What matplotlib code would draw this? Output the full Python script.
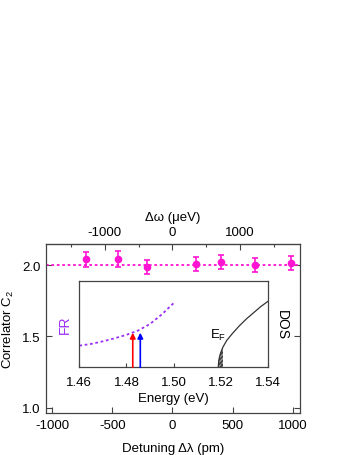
import numpy as np
import matplotlib
matplotlib.use('Agg')
import matplotlib.pyplot as plt

plt.rcParams['font.family'] = ['Liberation Sans', 'DejaVu Sans']
plt.rcParams['font.size'] = 9
plt.rcParams['axes.unicode_minus'] = False
plt.rcParams['mathtext.fontset'] = 'custom'
plt.rcParams['mathtext.rm'] = 'Liberation Sans'
plt.rcParams['mathtext.it'] = 'Liberation Sans:italic'

# datos principales: correlador C2 vs desintonia
detuning = [-720, -452, -212, 193, 402, 687, 989]
c2 = [2.042, 2.044, 1.988, 2.007, 2.023, 2.002, 2.014]
c2_err = [0.052, 0.054, 0.052, 0.050, 0.052, 0.050, 0.050]
c2_ref = 2.0

# recuadro: resonancia FR y densidad de estados
fr_energy = [1.460, 1.465, 1.470, 1.475, 1.480, 1.485, 1.490, 1.495, 1.500]
fr_value = [0.25, 0.27, 0.30, 0.335, 0.375, 0.425, 0.50, 0.61, 0.74]
dos_energy = [1.519, 1.5192, 1.5195, 1.520, 1.521, 1.5226, 1.525, 1.528,
              1.531, 1.534, 1.537, 1.540]
dos_value = [0.0, 0.074, 0.117, 0.166, 0.234, 0.31, 0.39, 0.48, 0.56,
             0.63, 0.70, 0.76]
fermi_edge = 1.5211
laser_red = 1.4827
laser_blue = 1.4859
laser_top = 0.40

pm_per_ueV = 562.0 / 1000.0

magenta = '#ff14d2'
purple = '#9a2ff5'
frame = '#444444'

fig = plt.figure(figsize=(3.52, 4.56), dpi=100)
ax = fig.add_axes([0.1307, 0.0914, 0.7216, 0.3713])

ax.axhline(c2_ref, color=magenta, ls=(0, (1.5, 1.5)), lw=1.3)
ax.errorbar(detuning, c2, yerr=c2_err, fmt='o', color=magenta, ms=4.5,
            capsize=2.5, elinewidth=1.2, capthick=1.2)

ax.set_xlim(-1050, 1060)
ax.set_ylim(0.96, 2.15)
ax.set_xticks([-1000, -500, 0, 500, 1000])
ax.set_yticks([1.0, 1.5, 2.0])
ax.tick_params(direction='in', length=4, width=0.8, color=frame,
               right=True, top=False, labelsize=9.5, pad=4)
for s in ax.spines.values():
    s.set_color(frame)
    s.set_linewidth(0.9)
ax.set_xlabel('Detuning Δλ (pm)', fontsize=9.5, labelpad=8)
ax.set_ylabel('Correlator C$_2$', fontsize=9.5, labelpad=4)

top = ax.secondary_xaxis('top', functions=(lambda x: x / pm_per_ueV,
                                           lambda w: w * pm_per_ueV))
top.set_xticks([-1000, 0, 1000])
top.set_xticks([-1500, -500, 500, 1500], minor=True)
top.tick_params(which='major', direction='in', length=4, width=0.8,
                color=frame, labelsize=9.5, pad=4)
top.tick_params(which='minor', direction='in', length=2.5, width=0.8, color=frame)
top.set_xlabel('Δω (μeV)', fontsize=9.5, labelpad=5)

# recuadro
ins = fig.add_axes([0.2253, 0.1923, 0.5352, 0.1899])
ins.plot(fr_energy, fr_value, color=purple, ls=(0, (1.5, 1.5)), lw=1.3)
ins.plot(dos_energy, dos_value, color='#333333', lw=0.9)
dos_e = np.array(dos_energy)
ins.fill_between(dos_energy, dos_value, 0, where=dos_e <= fermi_edge,
                 facecolor='#999999', edgecolor='#333333', hatch='////////',
                 lw=0, interpolate=True)
for e, col in [(laser_red, 'red'), (laser_blue, 'blue')]:
    ins.annotate('', xy=(e, laser_top), xytext=(e, 0),
                 arrowprops=dict(arrowstyle='-|>', color=col, lw=1.2,
                                 mutation_scale=8, shrinkA=0, shrinkB=0))
ins.text(1.5189, 0.385, 'E$_\\mathrm{F}$', ha='center', va='center', fontsize=9.5)
ins.set_xlim(1.46, 1.54)
ins.set_ylim(0, 1)
ins.set_xticks([1.46, 1.48, 1.50, 1.52, 1.54])
ins.set_xticklabels(['1.46', '1.48', '1.50', '1.52', '1.54'])
ins.set_yticks([])
ins.tick_params(direction='in', length=3, width=0.8, color=frame,
                labelsize=9.5, pad=6)
for s in ins.spines.values():
    s.set_color(frame)
    s.set_linewidth(0.9)
ins.set_xlabel('Energy (eV)', fontsize=9.5, labelpad=3)
ins.text(-0.076, 0.5, 'FR', color=purple, rotation=90, ha='center',
         va='center', fontsize=10, transform=ins.transAxes)
ins.text(1.076, 0.5, 'DOS', color='black', rotation=270, ha='center',
         va='center', fontsize=10, transform=ins.transAxes)

fig.savefig('out.png', dpi=100)
